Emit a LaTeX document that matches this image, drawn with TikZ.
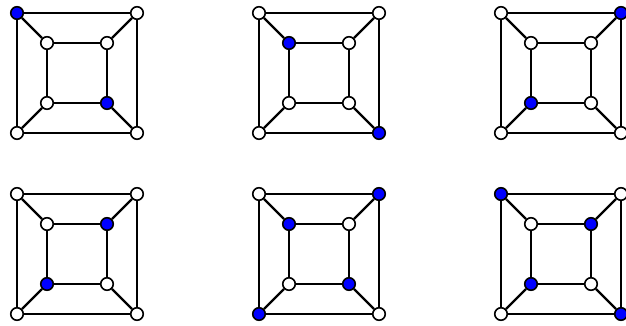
\documentclass[tikz,border=0pt]{standalone}
\usetikzlibrary{positioning}
\newcommand{\vcolor}{white}
\begin{document}
\begin{tikzpicture}[x=1pt, y=-1pt,
  vertex/.style={circle, draw, line width=1.6pt, minimum size=12.5pt, inner sep=0pt},
  link/.style={line width=2.2pt}
]
\useasboundingbox (0,0) rectangle (626,326);

% six drawings of the cube graph, blue vertices listed per panel
\foreach \pn/\dx/\dy/\blueset in {a/0/0/{o1,i3}, b/242/0/{i1,o3}, c/484/0/{o2,i4},
                                  d/0/181/{i2,i4}, e/242/181/{o2,i1,i3,o4}, f/484/181/{o1,i2,i4,o3}} {
  \begin{scope}[shift={(17+\dx,13+\dy)}]
    \foreach \vn/\vx/\vy in {o1/0/0, o2/120/0, o3/120/120, o4/0/120,
                             i1/30/30, i2/90/30, i3/90/90, i4/30/90} {
      \gdef\vcolor{white}
      \foreach \bn in \blueset {\ifx\bn\vn \gdef\vcolor{blue}\fi}
      \node[vertex, fill=\vcolor] (\pn-\vn) at (\vx,\vy) {};
    }
    \foreach \ea/\eb in {o1/o2, o2/o3, o3/o4, o4/o1, i1/i2, i2/i3, i3/i4, i4/i1,
                         o1/i1, o2/i2, o3/i3, o4/i4}
      \draw[link] (\pn-\ea) -- (\pn-\eb);
  \end{scope}
}

\end{tikzpicture}
\end{document}
